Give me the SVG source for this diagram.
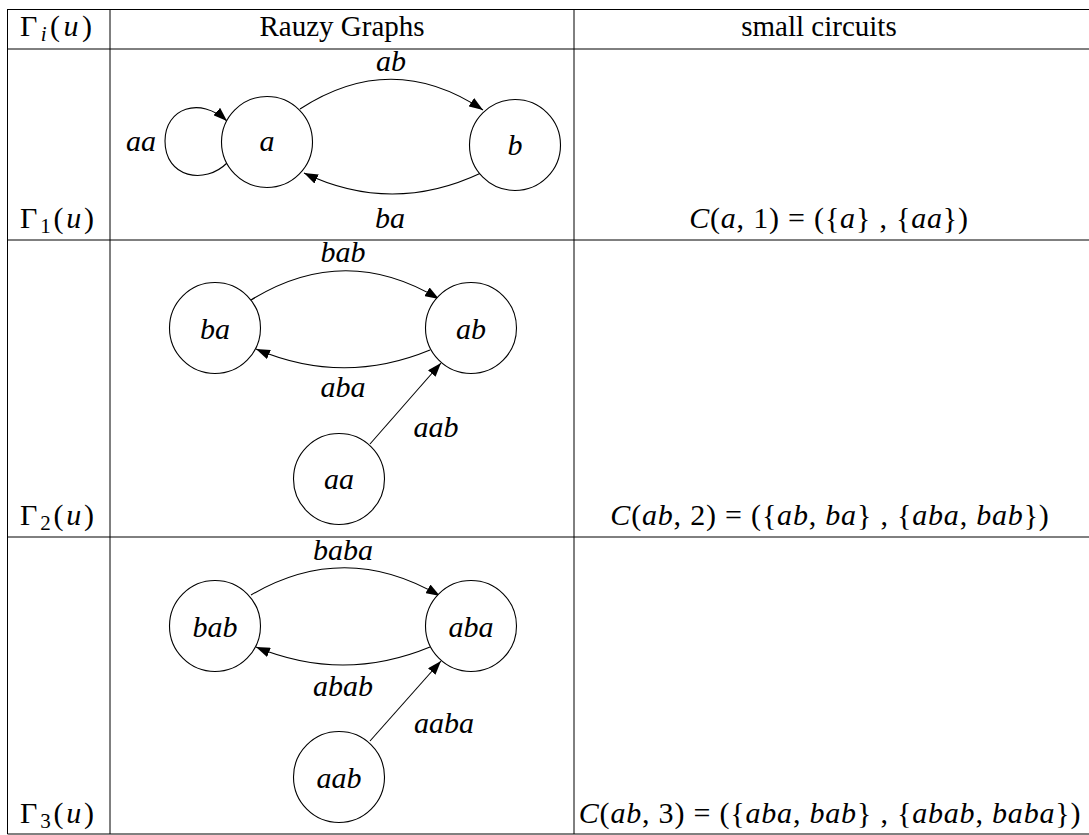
<svg xmlns="http://www.w3.org/2000/svg" width="1089" height="835" viewBox="0 0 1089 835">
  <style>
    text { font-family: "Liberation Serif", "Times New Roman", serif; font-size: 29px; fill: #000; }
    .i { font-style: italic; }
    .m { font-size: 30px; }
    .f { font-size: 30px; letter-spacing: 0.8px; text-anchor: middle; }
    .sub { font-size: 21px; }
    .c { text-anchor: middle; }
    .rule { stroke: #000; stroke-width: 1; fill: none; }
    .node circle { fill: #fff; stroke: #000; stroke-width: 1.1; }
    .edge { fill: none; stroke: #000; stroke-width: 1.1; marker-end: url(#arrow); }
  </style>
  <defs>
    <marker id="arrow" viewBox="0 0 14 10" refX="14" refY="5" markerWidth="14" markerHeight="10" markerUnits="userSpaceOnUse" orient="auto">
      <path d="M0,0 L14,5 L0,10 Z" fill="#000"/>
    </marker>
  </defs>

  <!-- table rules -->
  <g id="table">
    <line class="rule" x1="7.5" y1="9.5" x2="1089" y2="9.5"/>
    <line class="rule" x1="7.5" y1="49" x2="1089" y2="49"/>
    <line class="rule" x1="7.5" y1="240" x2="1089" y2="240"/>
    <line class="rule" x1="7.5" y1="537" x2="1089" y2="537"/>
    <line class="rule" x1="7.5" y1="834" x2="1089" y2="834"/>
    <line class="rule" x1="7.5" y1="9" x2="7.5" y2="834"/>
    <line class="rule" x1="110" y1="9" x2="110" y2="834"/>
    <line class="rule" x1="574" y1="9" x2="574" y2="834"/>
  </g>

  <!-- header row -->
  <g id="header">
    <text class="m" x="20" y="36" textLength="72" lengthAdjust="spacing">Γ<tspan class="i sub" dy="5">i</tspan><tspan dy="-5">(</tspan><tspan class="i">u</tspan>)</text>
    <text class="c" x="342" y="36">Rauzy Graphs</text>
    <text class="c" x="819" y="36">small circuits</text>
  </g>

  <!-- row labels -->
  <g id="row-labels">
    <text class="m" x="20" y="228" textLength="74" lengthAdjust="spacing">Γ<tspan class="sub" dy="5">1</tspan><tspan dy="-5">(</tspan><tspan class="i">u</tspan>)</text>
    <text class="m" x="20" y="525" textLength="74" lengthAdjust="spacing">Γ<tspan class="sub" dy="5">2</tspan><tspan dy="-5">(</tspan><tspan class="i">u</tspan>)</text>
    <text class="m" x="20" y="823" textLength="74" lengthAdjust="spacing">Γ<tspan class="sub" dy="5">3</tspan><tspan dy="-5">(</tspan><tspan class="i">u</tspan>)</text>
  </g>

  <!-- small circuits -->
  <g id="circuits">
    <text class="f" x="829" y="228"><tspan class="i">C</tspan>(<tspan class="i">a</tspan>, 1) = ({<tspan class="i">a</tspan>} , {<tspan class="i">aa</tspan>})</text>
    <text class="f" x="830" y="525"><tspan class="i">C</tspan>(<tspan class="i">ab</tspan>, 2) = ({<tspan class="i">ab</tspan>, <tspan class="i">ba</tspan>} , {<tspan class="i">aba</tspan>, <tspan class="i">bab</tspan>})</text>
    <text class="f" x="830" y="823"><tspan class="i">C</tspan>(<tspan class="i">ab</tspan>, 3) = ({<tspan class="i">aba</tspan>, <tspan class="i">bab</tspan>} , {<tspan class="i">abab</tspan>, <tspan class="i">baba</tspan>})</text>
  </g>

  <!-- connectors -->
  <g id="connectors">
    <!-- Γ1 -->
    <path class="edge" d="M227,163 C205,185 165,178 165,141 C165,108 200,96 227,121"/>
    <path class="edge" d="M300,109 Q392,49 483,110"/>
    <path class="edge" d="M481,173 Q392,215 304,173"/>
    <!-- Γ2 -->
    <path class="edge" d="M251,300 Q345,242 439,299"/>
    <path class="edge" d="M430,350 Q343,386 256,349"/>
    <path class="edge" d="M370,444 L441,363"/>
    <!-- Γ3 -->
    <path class="edge" d="M251,595 Q345,540 440,596"/>
    <path class="edge" d="M430,647 Q343,683 256,647"/>
    <path class="edge" d="M370,741 L441,661"/>
  </g>

  <!-- connector labels -->
  <g id="connector-labels">
    <text class="c i m" x="141" y="151">aa</text>
    <text class="c i m" x="391" y="71">ab</text>
    <text class="c i m" x="390" y="228">ba</text>
    <text class="c i m" x="343" y="262">bab</text>
    <text class="c i m" x="343" y="397">aba</text>
    <text class="c i m" x="436" y="437">aab</text>
    <text class="c i m" x="343" y="560">baba</text>
    <text class="c i m" x="343" y="696">abab</text>
    <text class="c i m" x="444" y="733">aaba</text>
  </g>

  <!-- Γ1 nodes -->
  <g id="n1-a" class="node"><circle cx="267" cy="142" r="45.5"/><text class="c i m" x="267" y="151">a</text></g>
  <g id="n1-b" class="node"><circle cx="515" cy="145" r="45.5"/><text class="c i m" x="515" y="155">b</text></g>

  <!-- Γ2 nodes -->
  <g id="n2-ba" class="node"><circle cx="215" cy="328" r="45.5"/><text class="c i m" x="215" y="339">ba</text></g>
  <g id="n2-ab" class="node"><circle cx="471" cy="328" r="45.5"/><text class="c i m" x="471" y="339">ab</text></g>
  <g id="n2-aa" class="node"><circle cx="339" cy="479" r="45.5"/><text class="c i m" x="339" y="489">aa</text></g>

  <!-- Γ3 nodes -->
  <g id="n3-bab" class="node"><circle cx="215" cy="626" r="45.5"/><text class="c i m" x="215" y="637">bab</text></g>
  <g id="n3-aba" class="node"><circle cx="471" cy="626" r="45.5"/><text class="c i m" x="471" y="637">aba</text></g>
  <g id="n3-aab" class="node"><circle cx="339" cy="777" r="45.5"/><text class="c i m" x="339" y="788">aab</text></g>
</svg>
